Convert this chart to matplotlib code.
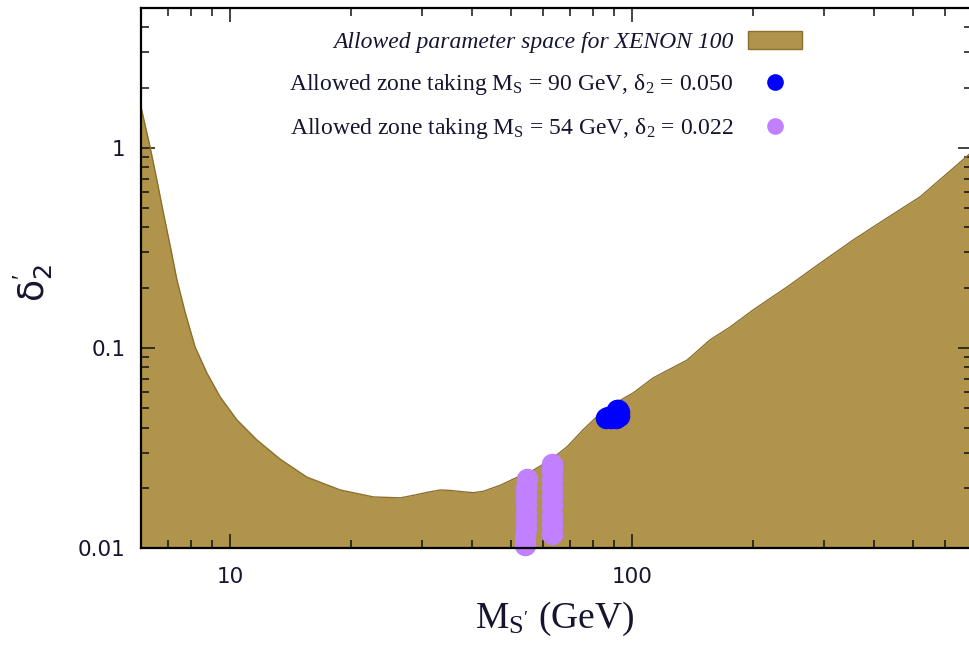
"""Allowed (M_S', delta'_2) region for XENON 100 with the two benchmark zones."""

import matplotlib

matplotlib.use("Agg")
import matplotlib.pyplot as plt  # noqa: E402
from matplotlib.lines import Line2D  # noqa: E402
from matplotlib.patches import Patch  # noqa: E402
from matplotlib.ticker import FuncFormatter  # noqa: E402

# upper edge of the allowed band (M_S' in GeV, delta'_2)
mass = [6.0, 6.32, 6.57, 6.82, 7.10, 7.37, 7.73, 8.18, 8.75, 9.44, 10.39,
        11.65, 13.31, 15.52, 18.78, 22.7, 26.5, 28.8, 31.0, 33.3, 35.2, 38.0,
        40.2, 42.6, 47.0, 51.8, 56.8, 62.5, 68.8, 75.5, 83.2, 91.8, 100.6,
        112.7, 137.0, 156.0, 175.0, 200.0, 243.0, 294.0, 355.0, 431.0, 520.0,
        630.0, 700.0]
delta_max = [1.60, 1.01, 0.692, 0.473, 0.320, 0.219, 0.150, 0.101, 0.075,
             0.0569, 0.0437, 0.0347, 0.0278, 0.0226, 0.0195, 0.0180, 0.0178,
             0.0184, 0.0190, 0.0195, 0.0194, 0.0191, 0.0189, 0.0192, 0.0206,
             0.0226, 0.0245, 0.0275, 0.032, 0.039, 0.047, 0.0537, 0.0596,
             0.0708, 0.087, 0.1096, 0.127, 0.155, 0.202, 0.266, 0.347, 0.447,
             0.569, 0.794, 0.955]

# scan points, M_S = 90 GeV, delta_2 = 0.050
m90 = [85.9, 87.0, 89.0, 90.5, 91.5, 92.3, 92.8, 92.8, 91.0, 88.5]
d90 = [0.0447, 0.0450, 0.0455, 0.0470, 0.0488, 0.0492, 0.0478, 0.0456,
       0.0447, 0.0447]

# scan points, M_S = 54 GeV, delta_2 = 0.022
m54 = [54.2, 54.2, 54.3, 54.3, 54.4, 54.4, 54.5, 54.5, 54.6,
       63.0, 63.1, 63.2, 63.3, 63.3, 63.2, 63.1, 63.0, 63.0]
d54 = [0.0104, 0.0114, 0.0125, 0.0137, 0.0150, 0.0165, 0.0182, 0.0200, 0.0220,
       0.0118, 0.0130, 0.0145, 0.0162, 0.0180, 0.0200, 0.0222, 0.0245, 0.0262]

FILL = "#b0944c"
EDGE = "#8c6f2c"
BLUE = "#0000ff"
PURPLE = "#c080ff"
INK = "#151530"
SERIF = "Liberation Serif"

plt.rcParams["mathtext.fontset"] = "custom"
plt.rcParams["mathtext.rm"] = SERIF
plt.rcParams["mathtext.it"] = SERIF + ":italic"
plt.rcParams["mathtext.sf"] = "DejaVu Sans"

fig = plt.figure(figsize=(9.7, 6.52), dpi=100)
ax = fig.add_axes([141 / 970, 104 / 652, 831 / 970, 540 / 652])

ax.fill_between(mass, 1e-3, delta_max, color=FILL, lw=0)
ax.plot(mass, delta_max, color=EDGE, lw=1.0)
ax.scatter(m90, d90, s=240, color=BLUE, lw=0, zorder=3)
ax.scatter(m54, d54, s=240, color=PURPLE, lw=0, zorder=3, clip_on=False)

ax.set_xscale("log")
ax.set_yscale("log")
ax.set_xlim(6.0, 700)
ax.set_ylim(0.01, 5.0)

fmt = FuncFormatter(lambda v, _: f"{v:g}")
ax.xaxis.set_major_formatter(fmt)
ax.yaxis.set_major_formatter(fmt)
ax.xaxis.set_minor_formatter(FuncFormatter(lambda v, _: ""))
ax.yaxis.set_minor_formatter(FuncFormatter(lambda v, _: ""))
ax.tick_params(which="both", direction="in", top=True, right=True,
               width=1.1, color="#111111")
ax.tick_params(which="major", length=10, labelsize=15.5, labelcolor=INK)
ax.tick_params(which="minor", length=6)
ax.tick_params(axis="x", which="major", pad=14)
ax.tick_params(axis="y", which="major", pad=11)
for sp in ax.spines.values():
    sp.set_linewidth(1.6)
    sp.set_zorder(4)

ax.set_xlabel(r"M$_{{\rm S}^{\prime}}$ (GeV)", fontsize=27, family=SERIF,
              color=INK)
ax.xaxis.set_label_coords(0.498, -0.095)
ax.set_ylabel(r"$\mathsf{\delta}^{\prime}_{\mathsf{2}}$", fontsize=26,
              color=INK)
ax.yaxis.set_label_coords(-0.103, 0.49)

handles = [
    Patch(facecolor=FILL, edgecolor=EDGE, lw=1.0),
    Line2D([], [], ls="none", marker="o", ms=12, color=BLUE, mew=0),
    Line2D([], [], ls="none", marker="o", ms=12, color=PURPLE, mew=0),
]
labels = [
    "Allowed parameter space for XENON 100",
    "Allowed zone taking M$_{\\rm S}$ = 90 GeV, δ$_{2}$ = 0.050",
    "Allowed zone taking M$_{\\rm S}$ = 54 GeV, δ$_{2}$ = 0.022",
]
leg = ax.legend(handles, labels, loc="upper right",
                bbox_to_anchor=(661 / 831, 0.957), markerfirst=False,
                frameon=False, prop={"family": SERIF, "size": 17},
                handlelength=2.3, handleheight=0.8, handletextpad=0.6,
                labelspacing=0.8, borderpad=0, borderaxespad=0)
leg.get_texts()[0].set_style("italic")
for t in leg.get_texts():
    t.set_color(INK)

fig.savefig("out.png", dpi=100)
